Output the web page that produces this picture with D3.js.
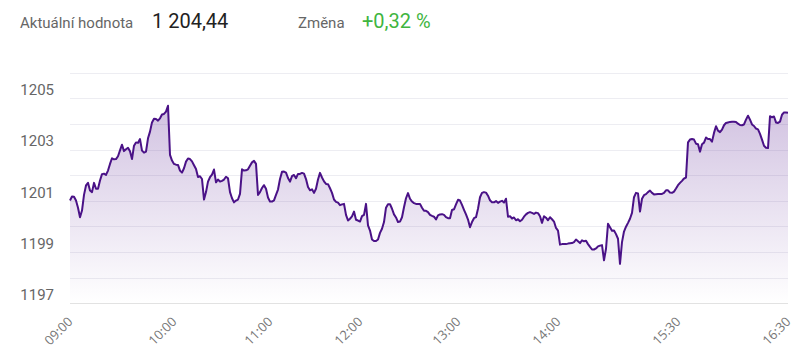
<!DOCTYPE html>
<html>
<head>
<meta charset="utf-8">
<script src="https://cdn.jsdelivr.net/npm/d3@7"></script>
<style>
  body { margin: 0; background: #fff; }
  svg { display: block; font-family: Roboto, "Open Sans", sans-serif; }
</style>
</head>
<body>
<svg id="chart" width="800" height="362"></svg>
<script>
// price samples, evenly spaced through the session
const prices = [
  1201.01, 1201.17, 1201.16, 1201.01, 1200.73, 1200.36, 1200.62, 1201.23, 1201.60, 1201.70,
  1201.40, 1201.34, 1201.70, 1201.47, 1201.47, 1201.79, 1202.04, 1202.06, 1202.01, 1202.18,
  1202.44, 1202.66, 1202.62, 1202.63, 1202.74, 1202.97, 1203.19, 1202.94, 1203.01, 1203.07,
  1202.93, 1202.63, 1203.15, 1203.28, 1203.26, 1203.41, 1202.96, 1202.88, 1202.92, 1203.44,
  1203.70, 1204.06, 1204.20, 1204.19, 1204.13, 1204.22, 1204.37, 1204.39, 1204.48, 1204.71,
  1202.79, 1202.57, 1202.44, 1202.41, 1202.40, 1202.18, 1202.10, 1202.27, 1202.53, 1202.65,
  1202.63, 1202.54, 1202.39, 1202.24, 1201.93, 1201.96, 1201.85, 1201.05, 1201.34, 1201.75,
  1201.92, 1202.02, 1202.22, 1201.72, 1201.83, 1201.75, 1201.78, 1201.83, 1201.94, 1201.88,
  1201.34, 1201.10, 1200.94, 1201.01, 1201.05, 1201.27, 1202.23, 1202.18, 1202.19, 1202.23,
  1202.37, 1202.50, 1202.56, 1202.44, 1201.23, 1201.34, 1201.50, 1201.61, 1201.47, 1201.13,
  1200.97, 1200.97, 1201.02, 1201.23, 1201.44, 1201.85, 1202.13, 1202.14, 1202.10, 1201.89,
  1201.75, 1201.96, 1202.01, 1201.88, 1202.05, 1202.05, 1202.09, 1202.06, 1201.85, 1201.54,
  1201.41, 1201.45, 1201.31, 1201.47, 1201.83, 1202.09, 1201.91, 1201.76, 1201.66, 1201.65,
  1201.49, 1201.31, 1201.05, 1200.96, 1200.93, 1200.83, 1200.86, 1200.88, 1200.45, 1200.23,
  1200.30, 1200.39, 1200.58, 1200.26, 1200.23, 1200.19, 1200.40, 1200.45, 1200.88, 1200.04,
  1199.84, 1199.49, 1199.43, 1199.43, 1199.49, 1199.75, 1199.91, 1200.17, 1200.73, 1200.87,
  1200.87, 1200.69, 1200.47, 1200.35, 1200.17, 1200.19, 1200.36, 1200.75, 1201.10, 1201.30,
  1201.08, 1200.97, 1200.91, 1200.88, 1200.88, 1200.88, 1200.73, 1200.61, 1200.61, 1200.56,
  1200.45, 1200.41, 1200.38, 1200.27, 1200.43, 1200.47, 1200.48, 1200.45, 1200.36, 1200.32,
  1200.32, 1200.64, 1200.67, 1200.86, 1201.04, 1201.01, 1200.84, 1200.65, 1200.47, 1200.27,
  1199.97, 1200.17, 1200.32, 1200.36, 1200.69, 1201.14, 1201.31, 1201.34, 1201.32, 1201.20,
  1201.02, 1200.94, 1200.94, 1200.99, 1200.92, 1200.97, 1201.00, 1200.93, 1201.08, 1200.38,
  1200.40, 1200.31, 1200.35, 1200.24, 1200.28, 1200.20, 1200.26, 1200.38, 1200.47, 1200.53,
  1200.56, 1200.53, 1200.49, 1200.54, 1200.52, 1200.40, 1200.14, 1200.40, 1200.34, 1200.24,
  1200.36, 1200.28, 1200.19, 1199.94, 1199.84, 1199.29, 1199.31, 1199.31, 1199.31, 1199.33,
  1199.34, 1199.35, 1199.39, 1199.49, 1199.42, 1199.35, 1199.46, 1199.42, 1199.44, 1199.31,
  1199.20, 1199.10, 1199.10, 1199.14, 1199.22, 1199.25, 1199.27, 1198.68, 1199.13, 1200.10,
  1199.97, 1199.83, 1199.84, 1199.70, 1199.52, 1198.54, 1199.39, 1199.80, 1199.99, 1200.14,
  1200.30, 1200.53, 1201.14, 1201.31, 1201.29, 1200.58, 1201.08, 1201.22, 1201.26, 1201.34,
  1201.40, 1201.31, 1201.25, 1201.26, 1201.27, 1201.27, 1201.27, 1201.31, 1201.41, 1201.41,
  1201.32, 1201.31, 1201.36, 1201.48, 1201.61, 1201.70, 1201.78, 1201.87, 1201.91, 1203.28,
  1203.39, 1203.41, 1203.39, 1203.23, 1203.21, 1202.92, 1203.21, 1203.27, 1203.47, 1203.41,
  1203.41, 1203.31, 1203.65, 1203.91, 1203.74, 1203.68, 1203.78, 1203.95, 1204.04, 1204.06,
  1204.08, 1204.09, 1204.09, 1204.08, 1204.01, 1203.96, 1203.95, 1203.98, 1204.17, 1204.32,
  1204.17, 1203.98, 1203.92, 1203.82, 1203.79, 1203.61, 1203.39, 1203.15, 1203.07, 1203.06,
  1204.30, 1204.26, 1204.29, 1204.06, 1204.04, 1204.09, 1204.36, 1204.45, 1204.45, 1204.44
];

// sample index where each time label sits
const timeTickIndex = [0, 52, 100, 145, 194, 244, 304, 359];
const timeTickLabels = ['09:00', '10:00', '11:00', '12:00', '13:00', '14:00', '15:30', '16:30'];

const gridValues = [1197, 1198, 1199, 1200, 1201, 1202, 1203, 1204, 1205, 1206];
const yLabelValues = [1197, 1199, 1201, 1203, 1205];

const currentValue = '1 204,44';
const changeValue = '+0,32 %';

const svg = d3.select('#chart');
const width = 800;
const height = 362;
const margin = { top: 72.7, right: 12, bottom: 58.7, left: 70 };

const xScale = d3
  .scaleLinear()
  .domain([0, prices.length - 1])
  .range([margin.left, width - margin.right]);

const yScale = d3
  .scaleLinear()
  .domain([1197, 1206])
  .range([height - margin.bottom, margin.top]);

// header
const header = svg.append('g');
header.append('text')
  .attr('x', 20).attr('y', 28)
  .attr('font-size', 15).attr('fill', '#666')
  .text('Aktuální hodnota');
header.append('text')
  .attr('x', 152).attr('y', 28)
  .attr('font-size', 20).attr('fill', '#222')
  .text(currentValue);
header.append('text')
  .attr('x', 298).attr('y', 28)
  .attr('font-size', 15).attr('fill', '#666')
  .text('Změna');
header.append('text')
  .attr('x', 362).attr('y', 28)
  .attr('font-size', 20).attr('fill', '#3fb53f')
  .text(changeValue);

// gradient for area
const defs = svg.append('defs');
const grad = defs.append('linearGradient')
  .attr('id', 'areaFill')
  .attr('gradientUnits', 'userSpaceOnUse')
  .attr('x1', 0).attr('x2', 0)
  .attr('y1', yScale(1205)).attr('y2', yScale(1197));
grad.append('stop').attr('offset', '0%').attr('stop-color', '#6b3a9e').attr('stop-opacity', 0.32);
grad.append('stop').attr('offset', '100%').attr('stop-color', '#6b3a9e').attr('stop-opacity', 0.0);

// grid lines
svg.append('g')
  .selectAll('line')
  .data(gridValues)
  .enter()
  .append('line')
  .attr('x1', margin.left)
  .attr('x2', width - margin.right)
  .attr('y1', (d) => Math.round(yScale(d)) + 0.5)
  .attr('y2', (d) => Math.round(yScale(d)) + 0.5)
  .attr('stroke', (d) => (d === 1197 ? '#e2e2e2' : '#ededf2'))
  .attr('stroke-width', 1);

// y labels
svg.append('g')
  .selectAll('text')
  .data(yLabelValues)
  .enter()
  .append('text')
  .attr('x', 54)
  .attr('y', (d) => yScale(d) - 3.3)
  .attr('text-anchor', 'end')
  .attr('font-size', 15)
  .attr('fill', '#666')
  .text((d) => d);

// area + line
const area = d3.area()
  .x((d, i) => xScale(i))
  .y0(yScale(1197))
  .y1((d) => yScale(d));

svg.append('path')
  .datum(prices)
  .attr('fill', 'url(#areaFill)')
  .attr('d', area);

const line = d3.line()
  .x((d, i) => xScale(i))
  .y((d) => yScale(d));

svg.append('path')
  .datum(prices)
  .attr('fill', 'none')
  .attr('stroke', '#4a1287')
  .attr('stroke-width', 2)
  .attr('stroke-linejoin', 'round')
  .attr('d', line);

// x labels, rotated
svg.append('g')
  .selectAll('text')
  .data(timeTickIndex)
  .enter()
  .append('text')
  .attr('transform', (d) => `translate(${xScale(d) - 3},${316}) rotate(-45)`)
  .attr('text-anchor', 'end')
  .attr('dy', '0.71em')
  .attr('font-family', '"Open Sans", sans-serif')
  .attr('font-size', 13)
  .attr('fill', '#777')
  .text((d, i) => timeTickLabels[i]);
</script>
</body>
</html>
